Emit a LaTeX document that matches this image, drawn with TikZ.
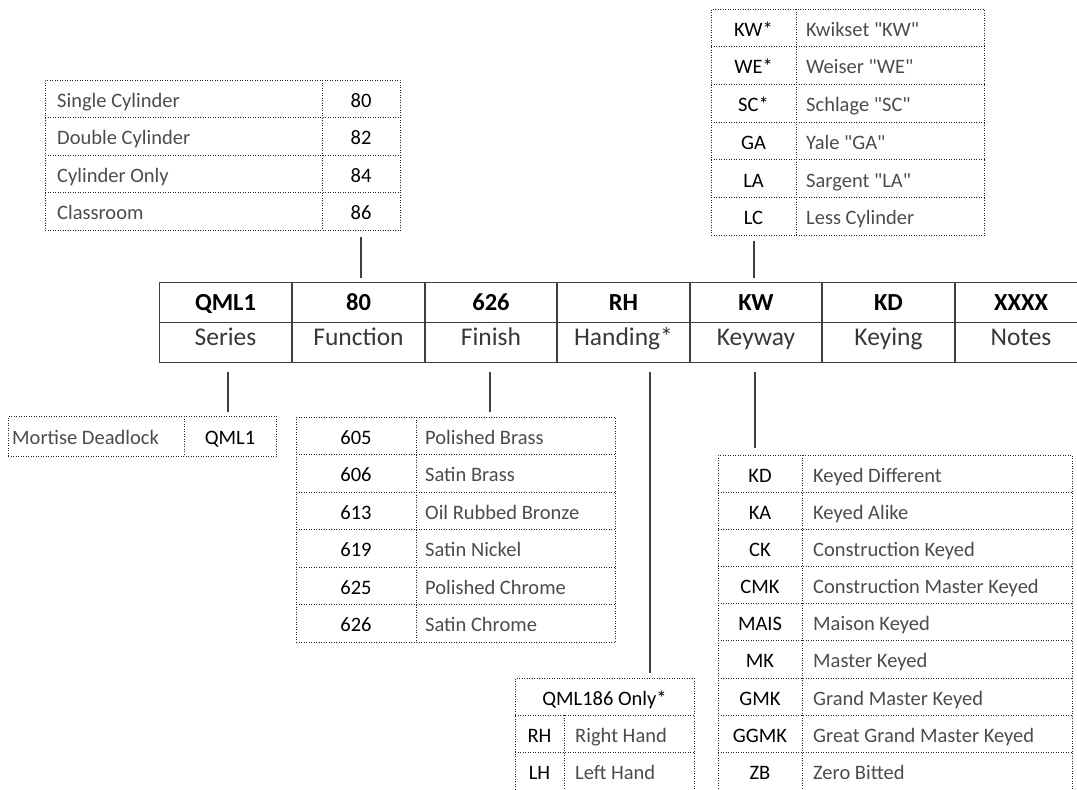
\documentclass[tikz,border=0pt]{standalone}
\usepackage{fontspec}
\setmainfont{Carlito}[Ligatures=TeXOff]
\usetikzlibrary{calc}
\definecolor{descgray}{gray}{0.3}
\definecolor{linegray}{gray}{0.25}
\begin{document}
\begin{tikzpicture}[x=1pt,y=-1pt,
  tbl/.style={draw=black!85, dash pattern=on 0.8pt off 1.7pt, line width=0.9pt, inner sep=0, anchor=north west},
  dotl/.style={draw=black!85, dash pattern=on 0.8pt off 1.7pt, line width=0.9pt},
  code/.style={font=\fontsize{20.5}{24}\selectfont, text=black, anchor=base, inner sep=0},
  desc/.style={font=\fontsize{20.5}{24}\selectfont, text=descgray, anchor=base west, inner sep=0},
  barcode/.style={font=\fontsize{24.5}{28}\selectfont\bfseries, text=black, anchor=base, inner sep=0},
  barlab/.style={font=\fontsize{25.5}{29}\selectfont, text=black!78, anchor=base, inner sep=0},
  barline/.style={draw=linegray, line width=1.4pt},
  conn/.style={draw=linegray, line width=1.5pt}]
\useasboundingbox (0,0) rectangle (1077,790);

% ---------- main bar ----------
\node[barline, minimum width=928pt, minimum height=80pt, anchor=north west, inner sep=0] (bar) at (159,282) {};
\draw[barline] (bar.west) -- (bar.east);
\foreach \x in {292,425,557,690,822,955} \draw[barline] (\x,282) -- (\x,362);
\foreach \c/\t/\l [count=\i] in {225.5/QML1/Series, 358.5/80/Function, 491/626/Finish, 623.5/RH/Handing*, 756/KW/Keyway, 888.5/KD/Keying, 1021/XXXX/Notes} {
  \node[barcode] (bc\i) at (\c,310) {\t};
  \node[barlab] (bl\i) at (\c,345.5) {\l};
}

% ---------- Function table (top left) ----------
\node[tbl, minimum width=355pt, minimum height=150pt] (tFn) at (45,80) {};
\draw[dotl] (322,80) -- (322,230);
\foreach \i in {1,2,3} \draw[dotl] (45,80+37.5*\i) -- (400,80+37.5*\i);
\foreach \d/\c [count=\i from 0] in {Single Cylinder/80, Double Cylinder/82, Cylinder Only/84, Classroom/86} {
  \pgfmathsetmacro{\yy}{80+37.5*\i+18.75+8.5}
  \node[desc] (fnd\i) at (57,\yy) {\d};
  \node[code] (fnc\i) at (361,\yy) {\c};
}

% ---------- Keyway table (top right) ----------
\node[tbl, minimum width=273pt, minimum height=226pt] (tKw) at (711,9) {};
\draw[dotl] (796,9) -- (796,235);
\foreach \i in {1,...,5} \draw[dotl] (711,9+37.667*\i) -- (984,9+37.667*\i);
\foreach \c/\d [count=\i from 0] in {KW*/Kwikset "KW", WE*/Weiser "WE", SC*/Schlage "SC", GA/Yale "GA", LA/Sargent "LA", LC/Less Cylinder} {
  \pgfmathsetmacro{\yy}{9+37.667*\i+18.83+8.5}
  \node[code] (kwc\i) at (753.5,\yy) {\c};
  \node[desc] (kwd\i) at (806,\yy) {\d};
}

% ---------- Series table ----------
\node[tbl, minimum width=268pt, minimum height=40pt] (tSr) at (8,416) {};
\draw[dotl] (184,416) -- (184,456);
\node[desc] (srd) at (12,444.5) {Mortise Deadlock};
\node[code] (src) at (230,444.5) {QML1};

% ---------- Finish table ----------
\node[tbl, minimum width=319pt, minimum height=225pt] (tFi) at (296,417) {};
\draw[dotl] (416,417) -- (416,642);
\foreach \i in {1,...,5} \draw[dotl] (296,417+37.5*\i) -- (615,417+37.5*\i);
\foreach \c/\d [count=\i from 0] in {605/Polished Brass, 606/Satin Brass, 613/Oil Rubbed Bronze, 619/Satin Nickel, 625/Polished Chrome, 626/Satin Chrome} {
  \pgfmathsetmacro{\yy}{417+37.5*\i+18.75+8.5}
  \node[code] (fic\i) at (356,\yy) {\c};
  \node[desc] (fid\i) at (425,\yy) {\d};
}

% ---------- Handing table ----------
\node[tbl, minimum width=179pt, minimum height=111.5pt] (tHd) at (515,678) {};
\draw[dotl] (564,715.2) -- (564,789.5);
\foreach \i in {1,2} \draw[dotl] (515,678+37.17*\i) -- (694,678+37.17*\i);
\node[code] (hdh) at (604.5,678+18.58+8.5) {QML186 Only*};
\foreach \c/\d [count=\i from 1] in {RH/Right Hand, LH/Left Hand} {
  \pgfmathsetmacro{\yy}{678+37.17*\i+18.58+8.5}
  \node[code] (hdc\i) at (539.5,\yy) {\c};
  \node[desc] (hdd\i) at (575,\yy) {\d};
}

% ---------- Keying table ----------
\node[tbl, minimum width=354pt, minimum height=334.5pt] (tKy) at (718,455) {};
\draw[dotl] (802,455) -- (802,789.5);
\foreach \i in {1,...,8} \draw[dotl] (718,455+37.17*\i) -- (1072,455+37.17*\i);
\foreach \c/\d [count=\i from 0] in {KD/Keyed Different, KA/Keyed Alike, CK/Construction Keyed, CMK/Construction Master Keyed, MAIS/Maison Keyed, MK/Master Keyed, GMK/Grand Master Keyed, GGMK/Great Grand Master Keyed, ZB/Zero Bitted} {
  \pgfmathsetmacro{\yy}{455+37.17*\i+18.58+8.5}
  \node[code] (kyc\i) at (760,\yy) {\c};
  \node[desc] (kyd\i) at (813,\yy) {\d};
}

% ---------- connectors ----------
\coordinate (xFn) at (361,0);
\coordinate (xKwT) at (754,0);
\coordinate (xSr) at (228,0);
\coordinate (xFi) at (490,0);
\coordinate (xHd) at (650,0);
\coordinate (xKy) at (755,0);
\draw[conn, shorten <=6pt, shorten >=4pt] (tFn.south -| xFn) -- (bar.north -| xFn);
\draw[conn, shorten <=5pt, shorten >=4pt] (tKw.south -| xKwT) -- (bar.north -| xKwT);
\draw[conn, shorten <=9pt, shorten >=4pt] (bar.south -| xSr) -- (tSr.north -| xSr);
\draw[conn, shorten <=9pt, shorten >=5pt] (bar.south -| xFi) -- (tFi.north -| xFi);
\draw[conn, shorten <=9pt, shorten >=5pt] (bar.south -| xHd) -- (tHd.north -| xHd);
\draw[conn, shorten <=9pt, shorten >=7pt] (bar.south -| xKy) -- (tKy.north -| xKy);
\end{tikzpicture}
\end{document}
